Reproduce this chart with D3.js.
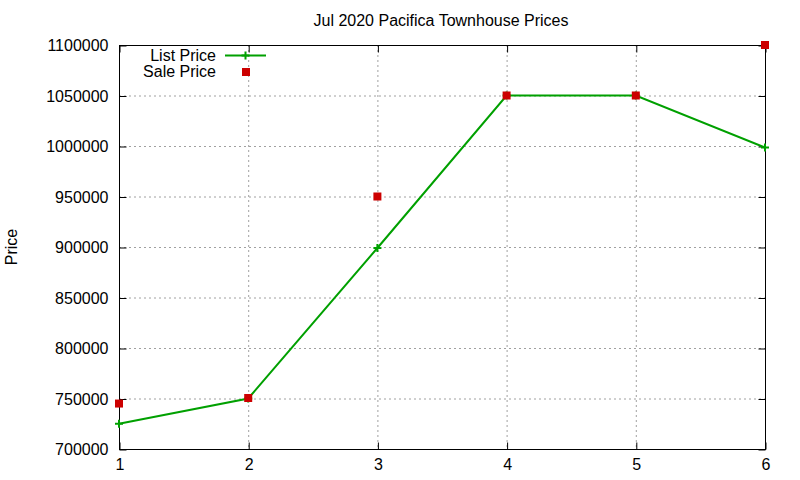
<!DOCTYPE html>
<html><head><meta charset="utf-8">
<script src="https://cdn.jsdelivr.net/npm/d3@7"></script>
<style>body{margin:0;background:#fff}svg{display:block}text{font-family:"Liberation Sans",Arial,sans-serif;fill:#000}</style>
</head><body>
<svg id="c" width="800" height="480"></svg>
<script>
const months = [1, 2, 3, 4, 5, 6];
const listPrice = [725000, 750000, 899000, 1050000, 1050000, 998500];
const salePrice = [745000, 750500, 950000, 1050000, 1050000, 1100000];
const yTicks = [700000, 750000, 800000, 850000, 900000, 950000, 1000000, 1050000, 1100000];
const xTicks = [1, 2, 3, 4, 5, 6];
const title = "Jul 2020 Pacifica Townhouse Prices";

const FS = "16px";
const svg = d3.select("#c");
const L = 119, R = 765, T = 45, B = 449;
const x = d3.scaleLinear().domain([1, 6]).range([L, R]);
const y = d3.scaleLinear().domain([700000, 1100000]).range([B, T]);
const green = "#00a000", red = "#cc0000";

// grid
const g = svg.append("g");
g.selectAll(".gy").data(yTicks.slice(1, -1)).join("line")
  .attr("x1", L).attr("x2", R).attr("y1", d => y(d) + 0.5).attr("y2", d => y(d) + 0.5)
  .attr("stroke", "#a0a0a0").attr("stroke-dasharray", "2,3").attr("stroke-width", 1);
g.selectAll(".gx").data(xTicks.slice(1, -1)).join("line")
  .attr("y1", T).attr("y2", B).attr("x1", d => x(d) + 0.5).attr("x2", d => x(d) + 0.5)
  .attr("stroke", "#a0a0a0").attr("stroke-dasharray", "2,3").attr("stroke-width", 1);

// axes with inward ticks
const yAxL = svg.append("g").attr("transform", `translate(${L + 0.5},0.5)`)
  .call(d3.axisLeft(y).tickValues(yTicks).tickSize(-7).tickPadding(11).tickFormat(d3.format("d")));
const yAxR = svg.append("g").attr("transform", `translate(${R + 0.5},0.5)`)
  .call(d3.axisRight(y).tickValues(yTicks).tickSize(-7).tickFormat(""));
const xAxB = svg.append("g").attr("transform", `translate(0.5,${B + 0.5})`)
  .call(d3.axisBottom(x).tickValues(xTicks).tickSize(-7).tickPadding(9).tickFormat(d3.format("d")));
const xAxT = svg.append("g").attr("transform", `translate(0.5,${T + 0.5})`)
  .call(d3.axisTop(x).tickValues(xTicks).tickSize(-7).tickFormat(""));
[yAxL, yAxR, xAxB, xAxT].forEach(a => {
  a.select(".domain").remove();
  a.selectAll("line").attr("stroke", "#000");
  a.selectAll("text").style("font-size", FS).style("font-family", '"Liberation Sans",Arial,sans-serif');
});
xAxB.selectAll("text").attr("dy", "0.71em");
svg.append("rect").attr("x", L + 0.5).attr("y", T + 0.5).attr("width", R - L).attr("height", B - T)
  .attr("fill", "none").attr("stroke", "#000").attr("stroke-width", 1);

// list price line
const line = d3.line().x((d, i) => x(months[i])).y(d => y(d));
svg.append("path").datum(listPrice).attr("d", line).attr("fill", "none")
  .attr("stroke", green).attr("stroke-width", 2);
const plus = (sel, cx, cy) => {
  sel.append("path").attr("d", `M${cx - 4},${cy}H${cx + 4}M${cx},${cy - 4}V${cy + 4}`)
    .attr("stroke", green).attr("stroke-width", 2);
};
listPrice.forEach((v, i) => plus(svg, x(months[i]), y(v)));

// sale price squares
svg.selectAll(".sq").data(salePrice).join("rect")
  .attr("x", (d, i) => x(months[i]) - 4).attr("y", d => y(d) - 4)
  .attr("width", 8).attr("height", 8).attr("fill", red);

// legend
svg.append("text").attr("x", 216).attr("y", 61).attr("text-anchor", "end").style("font-size", FS).text("List Price");
svg.append("line").attr("x1", 225).attr("x2", 266).attr("y1", 55.5).attr("y2", 55.5).attr("stroke", green).attr("stroke-width", 2);
plus(svg, 245.5, 55.5);
svg.append("text").attr("x", 216).attr("y", 77).attr("text-anchor", "end").style("font-size", FS).text("Sale Price");
svg.append("rect").attr("x", 242).attr("y", 68).attr("width", 8).attr("height", 8).attr("fill", red);

// title and y label
svg.append("text").attr("x", 441).attr("y", 26).attr("text-anchor", "middle").style("font-size", FS).text(title);
svg.append("text").attr("transform", "translate(17,247) rotate(-90)").attr("text-anchor", "middle").style("font-size", FS).text("Price");
</script>
</body></html>
